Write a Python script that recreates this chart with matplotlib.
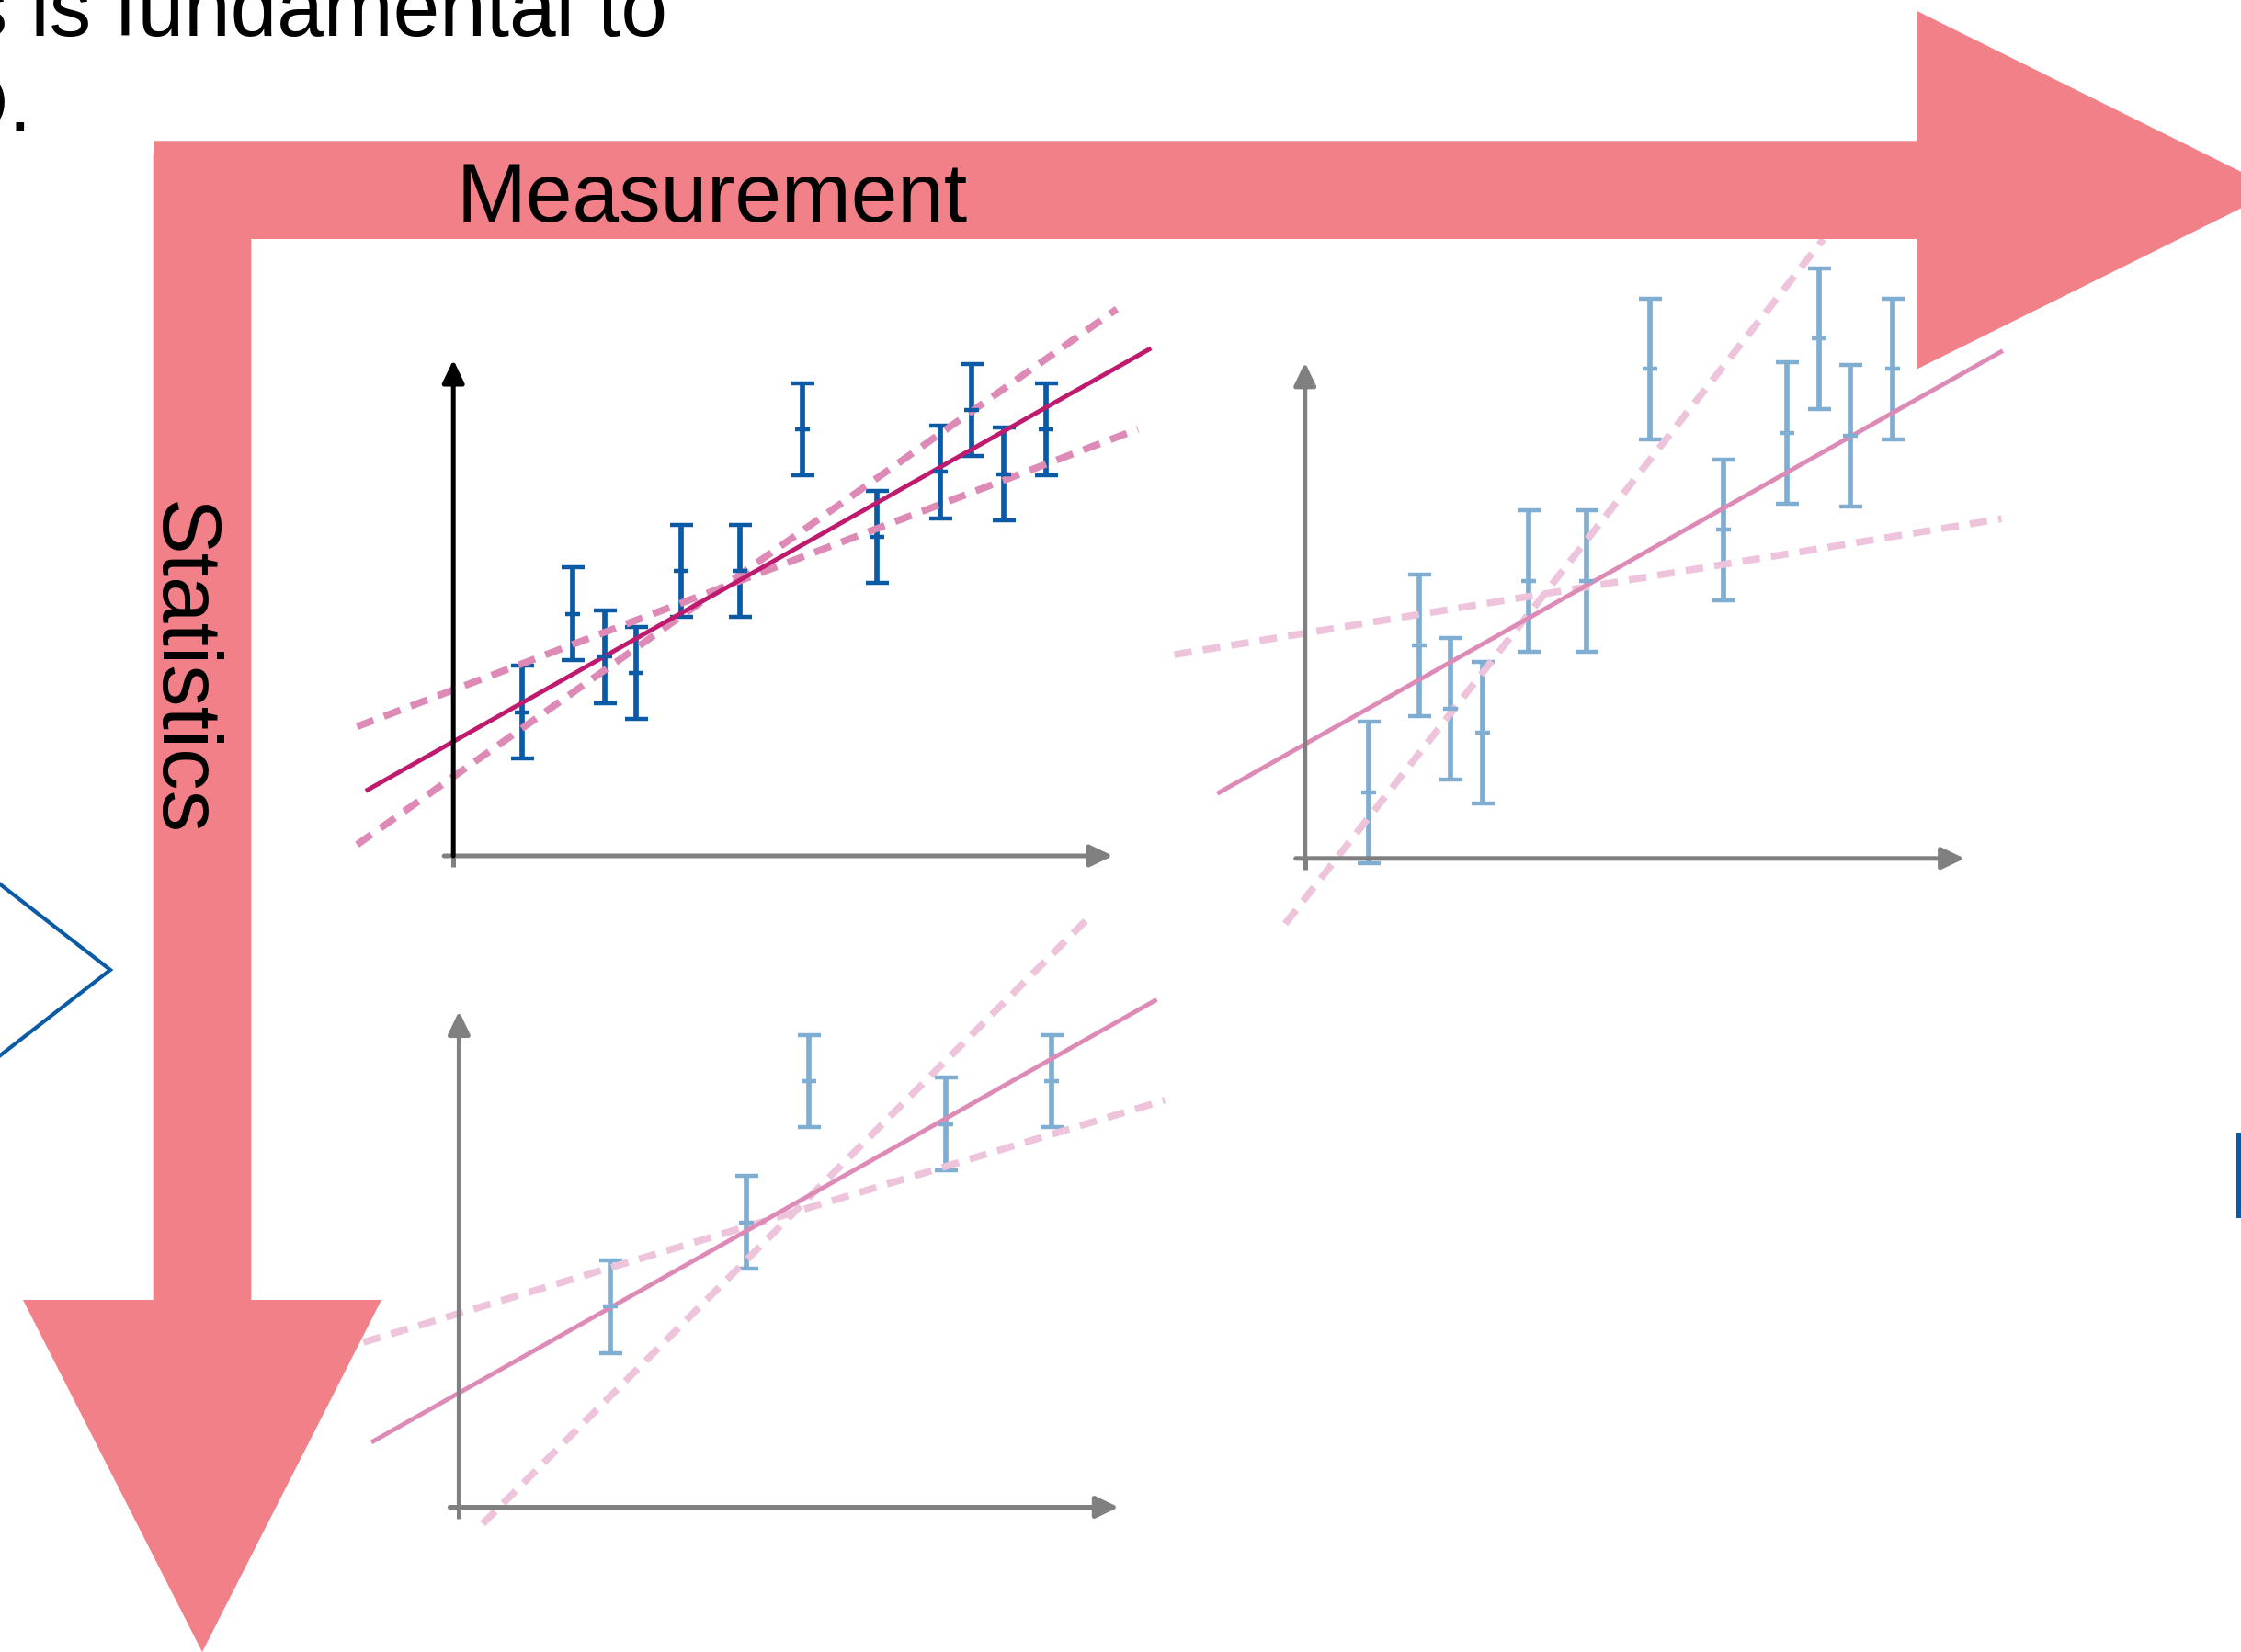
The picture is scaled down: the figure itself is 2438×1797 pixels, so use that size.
import matplotlib
matplotlib.use('Agg')
import matplotlib.pyplot as plt
from matplotlib.patches import Polygon, Rectangle

plt.rcParams['font.family'] = ['Liberation Sans', 'DejaVu Sans']

W, H = 2438, 1797
U = 71.75  # pixels per data unit in the small panels

# panel 1: precise measurements, many points
x_p1 = [1.04, 1.81, 2.29, 2.77, 3.46, 4.35, 5.30, 6.42, 7.38, 7.86, 8.35, 8.99]
y_p1 = [2.18, 3.67, 3.02, 2.77, 4.32, 4.32, 6.47, 4.84, 5.82, 6.76, 5.79, 6.47]
err_p1 = 0.70

# panel 2: imprecise measurements, many points
x_p2 = [0.97, 1.73, 2.21, 2.69, 3.39, 4.27, 5.23, 6.34, 7.31, 7.79, 8.27, 8.91]
y_p2 = [1.00, 3.23, 2.27, 1.91, 4.21, 4.21, 7.42, 4.98, 6.45, 7.88, 6.41, 7.42]
err_p2 = 1.07

# panel 3: precise measurements, few points
x_p3 = [2.29, 4.35, 5.31, 7.38, 8.98]
y_p3 = [3.04, 4.32, 6.46, 5.81, 6.46]
err_p3 = 0.70

# fitted line (same in every panel) and the confidence limits
fit_x = [-1.30, 10.55]
fit_y = [1.00, 7.68]
p1_lo_x, p1_lo_y = [-1.46, 10.38], [1.96, 6.47]
p1_hi_x, p1_hi_y = [-1.46, 10.06], [0.17, 8.29]
p2_lo_x, p2_lo_y = [-1.98, 10.56], [3.09, 5.15]
p2_hi_x, p2_hi_y = [-0.30, 7.86], [-0.99, 9.39]
p3_lo_x, p3_lo_y = [-1.45, 10.70], [2.50, 6.17]
p3_hi_x, p3_hi_y = [0.36, 9.55], [-0.25, 8.94]

# panel origins in pixels (from top left)
origins = [(493.2, 931.0), (1419.7, 933.8), (499.4, 1639.5)]

red = '#f28088'
dark_blue = '#0a5aa5'
light_blue = '#80aed3'
crimson = '#be1a6e'
mid_pink = '#de8ab6'
pale_pink = '#edc4db'
grey = '#808080'

fig = plt.figure(figsize=(W / 100, H / 100), dpi=100)


def make_panel(ox, oy):
    x0, x1, y0, y1 = -2.2, 11.0, -1.5, 9.6
    left = (ox + x0 * U) / W
    bottom = 1 - (oy - y0 * U) / H
    ax = fig.add_axes([left, bottom, (x1 - x0) * U / W, (y1 - y0) * U / H])
    ax.set_xlim(x0, x1)
    ax.set_ylim(y0, y1)
    ax.axis('off')
    ax.set_zorder(1)
    return ax


def draw_axes(ax, ycolor):
    style = '-|>,head_length=0.75,head_width=0.36'
    ax.annotate('', xy=(10.0, 0), xytext=(-0.14, 0),
                arrowprops=dict(arrowstyle=style, color=grey, lw=3.6,
                                shrinkA=0, shrinkB=0, mutation_scale=20))
    ax.plot([0, 0], [-0.17, 0], color=grey, lw=3.6, solid_capstyle='butt')
    ax.annotate('', xy=(0, 7.52), xytext=(0, 0),
                arrowprops=dict(arrowstyle=style, color=ycolor, lw=3.6,
                                shrinkA=0, shrinkB=0, mutation_scale=20))


def draw_bars(ax, x, y, err, color):
    ax.errorbar(x, y, yerr=err, fmt='_', color=color, ms=12, mew=3.2,
                elinewidth=4.1, capsize=9, capthick=3.6)


dash = dict(lw=5.5, ls=(0, (2.5, 1.6)), dash_capstyle='butt')

ax1 = make_panel(*origins[0])
draw_axes(ax1, 'black')
draw_bars(ax1, x_p1, y_p1, err_p1, dark_blue)
ax1.plot(p1_lo_x, p1_lo_y, color=mid_pink, **dash)
ax1.plot(p1_hi_x, p1_hi_y, color=mid_pink, **dash)
ax1.plot(fit_x, fit_y, color=crimson, lw=3.5)

ax2 = make_panel(*origins[1])
draw_axes(ax2, grey)
draw_bars(ax2, x_p2, y_p2, err_p2, light_blue)
ax2.plot(p2_lo_x, p2_lo_y, color=pale_pink, **dash)
ax2.plot(p2_hi_x, p2_hi_y, color=pale_pink, **dash)
ax2.plot(fit_x, fit_y, color=mid_pink, lw=3.5)

ax3 = make_panel(*origins[2])
draw_axes(ax3, grey)
draw_bars(ax3, x_p3, y_p3, err_p3, light_blue)
ax3.plot(p3_lo_x, p3_lo_y, color=pale_pink, **dash)
ax3.plot(p3_hi_x, p3_hi_y, color=pale_pink, **dash)
ax3.plot(fit_x, fit_y, color=mid_pink, lw=3.5)

# big arrows, labels and leftovers of the slide, in pixel coordinates
bg = fig.add_axes([0, 0, 1, 1])
bg.set_xlim(0, W)
bg.set_ylim(H, 0)
bg.axis('off')
bg.set_zorder(5)

measure_arrow = [(167.7, 153.3), (2085, 153.3), (2085, 11.7), (2478, 206.7),
                 (2085, 401.7), (2085, 260), (167.7, 260)]
stats_arrow = [(166.7, 167.7), (273.3, 167.7), (273.3, 1414), (415, 1414),
               (220, 1797), (25, 1414), (166.7, 1414)]
bg.add_patch(Polygon(measure_arrow, closed=True, fc=red, ec='none'))
bg.add_patch(Polygon(stats_arrow, closed=True, fc=red, ec='none'))

bg.text(496, 241, 'Measurement', fontsize=65.5, ha='left', va='baseline')
bg.text(173, 727, 'Statistics', fontsize=65.5, ha='center', va='baseline',
        rotation=-90, rotation_mode='anchor')

bg.text(726, 39, 'Statistics is fundamental to', fontsize=65.5, ha='right',
        va='baseline')
bg.text(34, 143, 'metrology and R&D.', fontsize=65.5, ha='right', va='baseline')

bg.plot([-10, 120, -10], [954, 1055, 1156], color=dark_blue, lw=3,
        solid_joinstyle='miter')
bg.add_patch(Rectangle((2433, 1232), 10, 93, fc=dark_blue, ec='none'))

fig.savefig('out.png', dpi=100)
